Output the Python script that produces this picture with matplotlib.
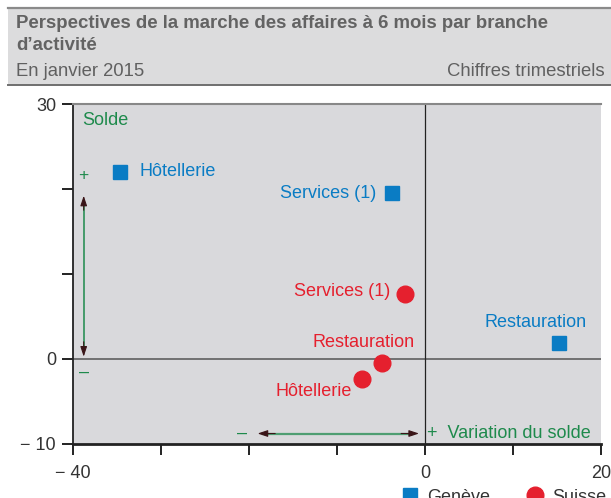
import matplotlib
matplotlib.use('Agg')
import matplotlib.pyplot as plt
from matplotlib.patches import Rectangle
from matplotlib.lines import Line2D

plt.rcParams['font.family'] = ['Liberation Sans', 'DejaVu Sans']

## Data
branches = ['Hôtellerie', 'Services (1)', 'Restauration']
geneve_x = [-34.6, -3.7, 15.25]
geneve_y = [22.0, 19.5, 1.8]
suisse_x = [-7.1, -2.3, -4.9]
suisse_y = [-2.4, 7.6, -0.5]

xticks = [-40, -30, -20, -10, 0, 10, 20]
xticklabels = ['\u2212 40', '', '', '', '0', '', '20']
yticks = [-10, 0, 10, 20, 30]
yticklabels = ['\u2212 10', '0', '', '', '30']

# label offsets in pixels (dx, dy, ha)
geneve_off = [(19, 0, 'left'), (-16, 0, 'right'), (-24, 21, 'center')]
suisse_off = [(-11, -12, 'right'), (-14, 3, 'right'), (-18, 21, 'center')]

blue = '#0A7CC4'
red = '#E5202E'
green = '#1E8A4C'
bg = '#D9D9DC'
txt = '#333333'

W, H = 611, 498
fig = plt.figure(figsize=(W / 100, H / 100), dpi=100)

## Header band
fig.patches.append(Rectangle((8 / W, 1 - 85 / H), 1, 77 / H, transform=fig.transFigure,
                             facecolor='#DCDCDD', edgecolor='none', zorder=0))
fig.add_artist(Line2D([8 / W, 1], [1 - 8.5 / H, 1 - 8.5 / H], transform=fig.transFigure, color='#8a8a8a', lw=1.6))
fig.add_artist(Line2D([8 / W, 1], [1 - 85 / H, 1 - 85 / H], transform=fig.transFigure, color='#6f6f6f', lw=1.4))
fig.text(16 / W, 1 - 23.5 / H, 'Perspectives de la marche des affaires à 6 mois par branche',
         fontsize=13.4, fontweight='bold', color='#636363', va='center', ha='left')
fig.text(16 / W, 1 - 45 / H, 'd\u2019activité',
         fontsize=13.4, fontweight='bold', color='#636363', va='center', ha='left')
fig.text(16 / W, 1 - 71 / H, 'En janvier 2015', fontsize=13.3, color='#606060', va='center', ha='left')
fig.text(605 / W, 1 - 71 / H, 'Chiffres trimestriels', fontsize=13.3, color='#606060', va='center', ha='right')

## Axes
ax = fig.add_axes([72.7 / W, (H - 443.7) / H, (601 - 72.7) / W, (443.7 - 104) / H])
ax.set_facecolor(bg)
ax.set_xlim(-40, 20)
ax.set_ylim(-10, 30)
ax.spines['right'].set_visible(False)
ax.spines['top'].set_color('#888888')
ax.spines['top'].set_linewidth(1.5)
ax.spines['left'].set_linewidth(1.3)
ax.spines['bottom'].set_linewidth(2)
ax.spines['left'].set_color('#222222')
ax.spines['bottom'].set_color('#222222')

ax.set_xticks(xticks)
ax.set_xticklabels(xticklabels)
ax.set_yticks(yticks)
ax.set_yticklabels(yticklabels)
ax.tick_params(axis='both', direction='out', length=8, width=1.4, color='#222222',
               labelsize=13, labelcolor=txt)
ax.tick_params(axis='x', pad=7)
ax.tick_params(axis='y', pad=4)

ax.axhline(0, color='#555555', lw=1.1, zorder=1)
ax.axvline(0, color='#222222', lw=0.9, zorder=1)

## Points
ax.plot(geneve_x, geneve_y, 's', color=blue, ms=10, ls='none', label='Genève', zorder=3, clip_on=False)
ax.plot(suisse_x, suisse_y, 'o', color=red, ms=12, ls='none', label='Suisse', zorder=3, clip_on=False)

for i, name in enumerate(branches):
    dx, dy, ha = geneve_off[i]
    ax.annotate(name, (geneve_x[i], geneve_y[i]), xytext=(dx, dy), textcoords='offset pixels',
                ha=ha, va='center', fontsize=13, color=blue)
    dx, dy, ha = suisse_off[i]
    ax.annotate(name, (suisse_x[i], suisse_y[i]), xytext=(dx, dy), textcoords='offset pixels',
                ha=ha, va='center', fontsize=13, color=red)

## Guide arrows
head = '#3a1518'
ax.plot([-38.75, -38.75], [0.8, 18.6], color=green, lw=1.1, zorder=2)
ax.annotate('', xy=(-38.75, 19.2), xytext=(-38.75, 17.5),
            arrowprops=dict(arrowstyle='-|>,head_length=0.6,head_width=0.2', color=head, lw=0.8, shrinkA=0, shrinkB=0))
ax.annotate('', xy=(-38.75, 0.25), xytext=(-38.75, 2.0),
            arrowprops=dict(arrowstyle='-|>,head_length=0.6,head_width=0.2', color=head, lw=0.8, shrinkA=0, shrinkB=0))
ax.plot([-18.4, -1.3], [-8.8, -8.8], color='#4f9e72', lw=1.6, zorder=2)
ax.annotate('', xy=(-19.0, -8.8), xytext=(-17.0, -8.8),
            arrowprops=dict(arrowstyle='-|>,head_length=0.6,head_width=0.2', color=head, lw=0.8, shrinkA=0, shrinkB=0))
ax.annotate('', xy=(-0.67, -8.8), xytext=(-2.7, -8.8),
            arrowprops=dict(arrowstyle='-|>,head_length=0.6,head_width=0.2', color=head, lw=0.8, shrinkA=0, shrinkB=0))

ax.text(-38.75, 21.6, '+', color=green, fontsize=12.5, ha='center', va='center')
ax.text(-38.75, -1.65, '\u2013', color=green, fontsize=13, ha='center', va='center')
ax.text(-20.76, -8.8, '\u2013', color=green, fontsize=13, ha='center', va='center')
ax.text(0.2, -8.8, '+  Variation du solde', color=green, fontsize=13, ha='left', va='center')
ax.text(-38.95, 28.1, 'Solde', color=green, fontsize=13, ha='left', va='center')

## Legend
fig.legend(loc='center left', bbox_to_anchor=(400.5 / W, 1 / H), ncol=2, frameon=False,
           fontsize=13, handlelength=1, handletextpad=0.45, columnspacing=2.0,
           borderpad=0, borderaxespad=0, labelcolor=txt)

fig.savefig('out.png', dpi=100)
